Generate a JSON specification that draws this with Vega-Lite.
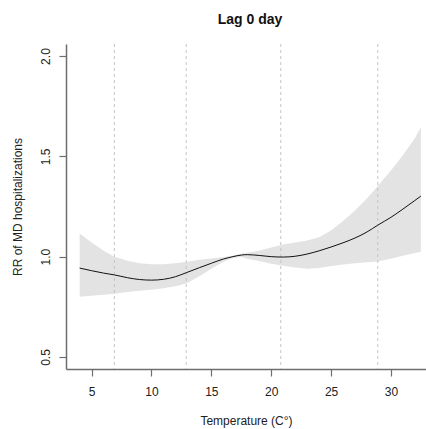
{
  "$schema": "https://vega.github.io/schema/vega-lite/v6.json",
  "width": 360,
  "height": 325,
  "autosize": {"type": "none"},
  "padding": {"left": 66, "top": 44, "right": 0, "bottom": 60},
  "background": "white",
  "config": {
    "view": {"stroke": null},
    "font": "Liberation Sans",
    "axis": {
      "grid": false,
      "domainColor": "#6e6e6e",
      "domainWidth": 1.5,
      "tickColor": "#6e6e6e",
      "tickWidth": 1.2,
      "tickSize": 7,
      "labelFont": "Liberation Sans",
      "labelFontSize": 12,
      "labelColor": "#222222",
      "titleFont": "Liberation Sans",
      "titleFontSize": 12,
      "titleFontWeight": "normal",
      "titleColor": "#222222"
    }
  },
  "title": {
    "text": "Lag 0 day",
    "font": "Liberation Sans",
    "fontSize": 14,
    "fontWeight": "bold",
    "color": "#111111",
    "anchor": "middle",
    "baseline": "alphabetic",
    "offset": 6,
    "dx": 4
  },
  "datasets": {
    "curve": [
      {"T": 4.0, "rr": 0.943, "lo": 0.800, "hi": 1.115},
      {"T": 5.0, "rr": 0.930, "lo": 0.805, "hi": 1.070},
      {"T": 6.0, "rr": 0.918, "lo": 0.810, "hi": 1.030},
      {"T": 6.9, "rr": 0.909, "lo": 0.815, "hi": 1.000},
      {"T": 8.0, "rr": 0.895, "lo": 0.824, "hi": 0.980},
      {"T": 9.0, "rr": 0.886, "lo": 0.830, "hi": 0.967},
      {"T": 10.0, "rr": 0.883, "lo": 0.835, "hi": 0.962},
      {"T": 11.0, "rr": 0.887, "lo": 0.842, "hi": 0.962},
      {"T": 12.0, "rr": 0.900, "lo": 0.852, "hi": 0.967},
      {"T": 12.9, "rr": 0.920, "lo": 0.866, "hi": 0.973},
      {"T": 14.0, "rr": 0.945, "lo": 0.902, "hi": 0.985},
      {"T": 15.0, "rr": 0.967, "lo": 0.940, "hi": 0.991},
      {"T": 16.0, "rr": 0.988, "lo": 0.975, "hi": 0.998},
      {"T": 16.8, "rr": 1.000, "lo": 0.993, "hi": 1.006},
      {"T": 17.5, "rr": 1.008, "lo": 0.998, "hi": 1.014},
      {"T": 18.0, "rr": 1.010, "lo": 0.990, "hi": 1.019},
      {"T": 19.0, "rr": 1.006, "lo": 0.978, "hi": 1.030},
      {"T": 20.0, "rr": 1.000, "lo": 0.965, "hi": 1.046},
      {"T": 21.0, "rr": 0.998, "lo": 0.955, "hi": 1.060},
      {"T": 22.0, "rr": 1.002, "lo": 0.946, "hi": 1.070},
      {"T": 23.0, "rr": 1.013, "lo": 0.940, "hi": 1.080},
      {"T": 24.0, "rr": 1.029, "lo": 0.944, "hi": 1.097},
      {"T": 25.0, "rr": 1.048, "lo": 0.953, "hi": 1.130},
      {"T": 26.0, "rr": 1.069, "lo": 0.961, "hi": 1.178},
      {"T": 27.0, "rr": 1.093, "lo": 0.967, "hi": 1.230},
      {"T": 28.0, "rr": 1.123, "lo": 0.972, "hi": 1.290},
      {"T": 28.9, "rr": 1.157, "lo": 0.976, "hi": 1.352},
      {"T": 30.0, "rr": 1.196, "lo": 0.990, "hi": 1.430},
      {"T": 31.0, "rr": 1.237, "lo": 1.004, "hi": 1.505},
      {"T": 32.0, "rr": 1.280, "lo": 1.018, "hi": 1.590},
      {"T": 32.5, "rr": 1.302, "lo": 1.025, "hi": 1.645}
    ],
    "cuts": [
      {"T": 6.9},
      {"T": 12.9},
      {"T": 20.8},
      {"T": 28.9}
    ]
  },
  "layer": [
    {
      "data": {"name": "curve"},
      "mark": {"type": "area", "color": "#e3e3e3", "opacity": 1},
      "encoding": {
        "x": {
          "field": "T", "type": "quantitative",
          "scale": {"domain": [2.86, 32.93], "nice": false, "zero": false},
          "axis": {
            "values": [5, 10, 15, 20, 25, 30],
            "title": "Temperature (C°)",
            "labelPadding": 10,
            "titlePadding": 18
          }
        },
        "y": {
          "field": "lo", "type": "quantitative",
          "scale": {"domain": [0.44, 2.06], "nice": false, "zero": false},
          "axis": {
            "values": [0.5, 1, 1.5, 2],
            "format": ".1f",
            "labelAngle": -90,
            "labelAlign": "center",
            "labelBaseline": "bottom",
            "labelPadding": 7,
            "title": "RR of MD hospitalizations",
            "titlePadding": 15
          }
        },
        "y2": {"field": "hi"}
      }
    },
    {
      "data": {"name": "cuts"},
      "mark": {"type": "rule", "color": "#c4c4c4", "strokeWidth": 1, "strokeDash": [3, 3]},
      "encoding": {
        "x": {"field": "T", "type": "quantitative"}
      }
    },
    {
      "mark": {"type": "rule", "color": "#111111", "strokeWidth": 1.2},
      "encoding": {
        "y": {"datum": 1, "type": "quantitative"}
      }
    },
    {
      "data": {"name": "curve"},
      "mark": {"type": "line", "color": "#111111", "strokeWidth": 1, "interpolate": "monotone"},
      "encoding": {
        "x": {"field": "T", "type": "quantitative"},
        "y": {"field": "rr", "type": "quantitative"}
      }
    }
  ]
}
